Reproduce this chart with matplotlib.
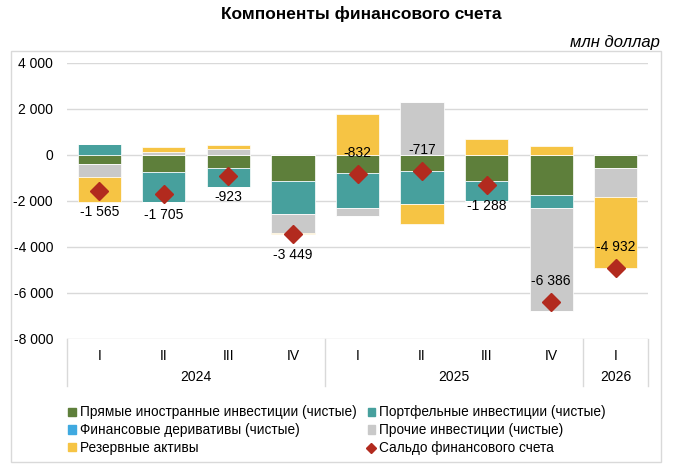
import numpy as np
import matplotlib
matplotlib.use("Agg")
import matplotlib.pyplot as plt
from matplotlib.patches import Patch, Rectangle
from matplotlib.lines import Line2D
import matplotlib.transforms as mtransforms

plt.rcParams['font.family'] = ['Liberation Sans', 'DejaVu Sans']

# quarters and years
quarters = ["I", "II", "III", "IV", "I", "II", "III", "IV", "I"]
years = ["2024", "2025", "2026"]
year_counts = [4, 4, 1]

# components, млн доллар
fdi = [-390, -750, -565, -1130, -770, -700, -1140, -1720, -565]
portfolio = [480, -1305, -808, -1440, -1520, -1440, -848, -590, 0]
derivatives = [0, 0, 0, 0, 0, 0, 0, 0, 0]
other = [-580, 150, 260, -815, -342, 2290, 0, -4486, -1275]
reserves = [-1090, 200, 190, -64, 1800, -867, 700, 410, -3092]
balance = [-1565, -1705, -923, -3449, -832, -717, -1288, -6386, -4932]

series_names = [
    "Прямые иностранные инвестиции (чистые)",
    "Портфельные инвестиции (чистые)",
    "Финансовые деривативы (чистые)",
    "Прочие инвестиции (чистые)",
    "Резервные активы",
]
balance_name = "Сальдо финансового счета"
colors = ["#5E7F3B", "#47A09D", "#3FA9E0", "#C9C9C9", "#F6C444"]
red = "#B22A1E"

# label above (+1) or below (-1) the diamond
label_side = [-1, -1, -1, -1, 1, 1, -1, 1, 1]

fig = plt.figure(figsize=(6.8, 4.76), dpi=100)
ax = fig.add_axes([67 / 680, 1 - 339 / 476, 581 / 680, 276 / 476])

x = np.arange(len(quarters))
pos_base = np.zeros(len(x))
neg_base = np.zeros(len(x))
for vals, col in zip([fdi, portfolio, derivatives, other, reserves], colors):
    v = np.array(vals, dtype=float)
    pos = np.where(v > 0, v, 0)
    neg = np.where(v < 0, v, 0)
    ax.bar(x, pos, 0.67, bottom=pos_base, color=col, edgecolor="white", linewidth=0.5, zorder=2)
    ax.bar(x, neg, 0.67, bottom=neg_base, color=col, edgecolor="white", linewidth=0.5, zorder=2)
    pos_base += pos
    neg_base += neg

ax.plot(x, balance, linestyle="none", marker="D", markersize=9, color=red, zorder=4)
for xi, b, s in zip(x, balance, label_side):
    txt = f"{b:,}".replace(",", " ")
    ax.annotate(txt, (xi, b), xytext=(0, 21 * s), textcoords="offset pixels",
                ha="center", va="center", fontsize=10, zorder=5)

ax.set_ylim(-8000, 4000)
ax.set_xlim(-0.5, len(x) - 0.5)
ax.set_yticks(np.arange(-8000, 4001, 2000))
ax.set_yticklabels([f"{t:,}".replace(",", " ") for t in range(-8000, 4001, 2000)], fontsize=10)
ax.tick_params(axis="y", length=0, pad=10)
ax.set_xticks([])
ax.yaxis.grid(True, color="#D9D9D9", linewidth=1)
ax.set_axisbelow(True)
for sp in ax.spines.values():
    sp.set_visible(False)

# category axis: quarters, years, separators
trans = mtransforms.blended_transform_factory(ax.transData, ax.transAxes)
for xi, q in zip(x, quarters):
    ax.text(xi, -0.06, q, transform=trans, ha="center", va="center", fontsize=10)
edges = np.concatenate([[0], np.cumsum(year_counts)]) - 0.5
for e in edges:
    ax.plot([e, e], [0, -0.17], transform=trans, color="#D9D9D9", linewidth=1, clip_on=False)
for i, y in enumerate(years):
    mid = (edges[i] + edges[i + 1]) / 2
    ax.text(mid, -0.138, y, transform=trans, ha="center", va="center", fontsize=10)

fig.text(361 / 680, 1 - 14 / 476, "Компоненты финансового счета", ha="center", va="center",
         fontsize=12.5, fontweight="bold")
fig.text(660 / 680, 1 - 42 / 476, "млн доллар", ha="right", va="center",
         fontsize=12, style="italic")

fig.patches.append(Rectangle((11 / 680, 1 - 462 / 476), 650 / 680, 411 / 476,
                             transform=fig.transFigure, fill=False, edgecolor="#D9D9D9",
                             linewidth=1))

handles = [Patch(color=c) for c in colors]
bal_handle = Line2D([], [], linestyle="none", marker="D", markersize=5, color=red)
order = [0, 2, 4, 1, 3]
leg_handles = [handles[i] for i in order] + [bal_handle]
leg_labels = [series_names[i] for i in order] + [balance_name]
fig.legend(leg_handles, leg_labels, ncol=2, loc="upper left",
           bbox_to_anchor=(63 / 680, 1 - 400 / 476), frameon=False, fontsize=9.8,
           handlelength=0.55, handleheight=0.55, handletextpad=0.3, columnspacing=0.8,
           labelspacing=0.28, borderaxespad=0)

fig.savefig("out.png", dpi=100)
